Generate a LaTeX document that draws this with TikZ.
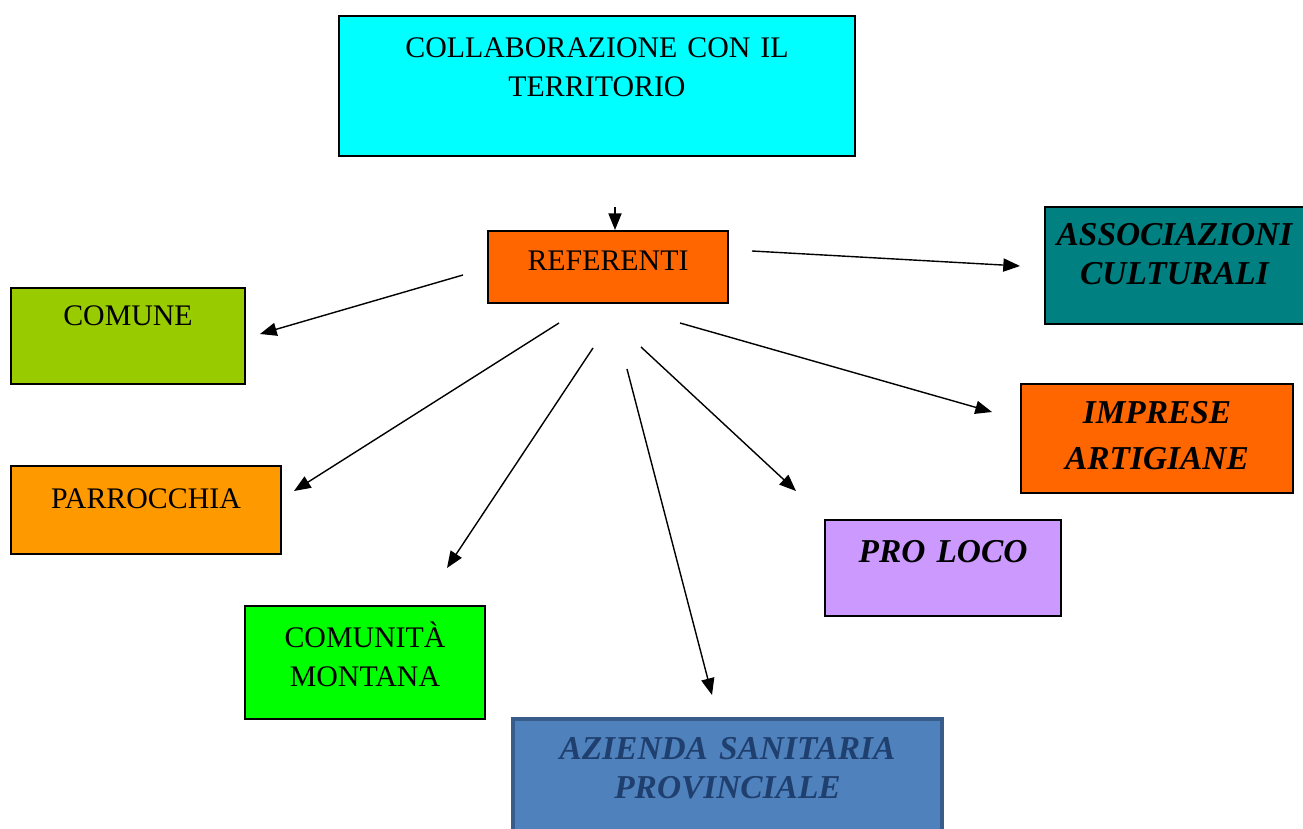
\documentclass[tikz,border=0pt]{standalone}
\usepackage{fontspec}
\setmainfont{Liberation Serif}
\usetikzlibrary{arrows.meta}

\definecolor{ciano}{HTML}{00FFFF}
\definecolor{arancio}{HTML}{FF6600}
\definecolor{ottanio}{HTML}{008080}
\definecolor{lime}{HTML}{99CC00}
\definecolor{ambra}{HTML}{FF9900}
\definecolor{verde}{HTML}{00FF00}
\definecolor{lilla}{HTML}{CC99FF}
\definecolor{azzurro}{HTML}{4F81BD}
\definecolor{bordoblu}{HTML}{385D8A}
\definecolor{testoblu}{HTML}{1F3F6E}

\tikzset{
  casella/.style={draw=black, line width=0.9pt, anchor=north, inner sep=0pt,
    align=center, font=\fontsize{17}{22}\selectfont},
  corsivo/.style={font=\fontsize{19}{22}\selectfont\bfseries\itshape},
  freccia/.style={-{Triangle[length=9.5pt,width=7.5pt]}, line width=0.8pt},
}

\begin{document}
\begin{tikzpicture}
\fill[white] (0,0) rectangle (26.06,-16.58);
\useasboundingbox (0,0) rectangle (26.06,-16.58);

% Title
\node[casella, fill=ciano, text width=10.32cm, text height=0.84cm, text depth=1.96cm]
  (titolo) at (11.94,-0.30) {COLLABORAZIONE CON IL\\TERRITORIO};

% Central box
\node[casella, fill=arancio, text width=4.80cm, text height=0.80cm, text depth=0.64cm]
  (referenti) at (12.16,-4.60) {REFERENTI};

% Left side
\node[casella, fill=lime, text width=4.68cm, text height=0.76cm, text depth=1.16cm]
  (comune) at (2.56,-5.74) {COMUNE};
\node[casella, fill=ambra, text width=5.40cm, text height=0.86cm, text depth=0.90cm]
  (parrocchia) at (2.92,-9.30) {PARROCCHIA};
\node[casella, fill=verde, text width=4.80cm, text height=0.84cm, text depth=1.42cm]
  (comunita) at (7.30,-12.10) {COMUNITÀ\\MONTANA};

% Bottom
\node[casella, corsivo, draw=bordoblu, line width=2pt, fill=azzurro, text=testoblu,
  text width=8.58cm, text height=0.82cm, text depth=1.80cm]
  (azienda) at (14.55,-14.34) {AZIENDA SANITARIA\\PROVINCIALE};

% Right side
\node[casella, corsivo, fill=ottanio, text width=5.18cm, text height=0.78cm, text depth=1.56cm]
  (associazioni) at (23.49,-4.12) {ASSOCIAZIONI\\CULTURALI};
\node[casella, corsivo, fill=arancio, text width=5.44cm, text height=0.80cm, text depth=1.38cm]
  (imprese) at (23.14,-7.66) {IMPRESE\\[4pt]ARTIGIANE};
\node[casella, corsivo, fill=lilla, text width=4.72cm, text height=0.86cm, text depth=1.06cm]
  (proloco) at (18.86,-10.38) {PRO LOCO};

% Arrow into REFERENTI
\coordinate (a0) at (12.30,-4.14);
\draw[freccia] (a0) -- (a0 |- referenti.north);

% Arrows from REFERENTI
\coordinate (r1) at (9.26,-5.50);   \coordinate (e1) at (5.20,-6.68);
\coordinate (r2) at (15.04,-5.02);  \coordinate (e2) at (20.40,-5.32);
\coordinate (r3) at (11.18,-6.46);  \coordinate (e3) at (5.88,-9.82);
\coordinate (r4) at (11.86,-6.96);  \coordinate (e4) at (8.94,-11.36);
\coordinate (r5) at (12.54,-7.38);  \coordinate (e5) at (14.24,-13.90);
\coordinate (r6) at (12.82,-6.94);  \coordinate (e6) at (15.92,-9.82);
\coordinate (r7) at (13.60,-6.46);  \coordinate (e7) at (19.84,-8.24);
\foreach \i in {1,...,7}
  \draw[freccia] (r\i) -- (e\i);
\end{tikzpicture}
\end{document}
